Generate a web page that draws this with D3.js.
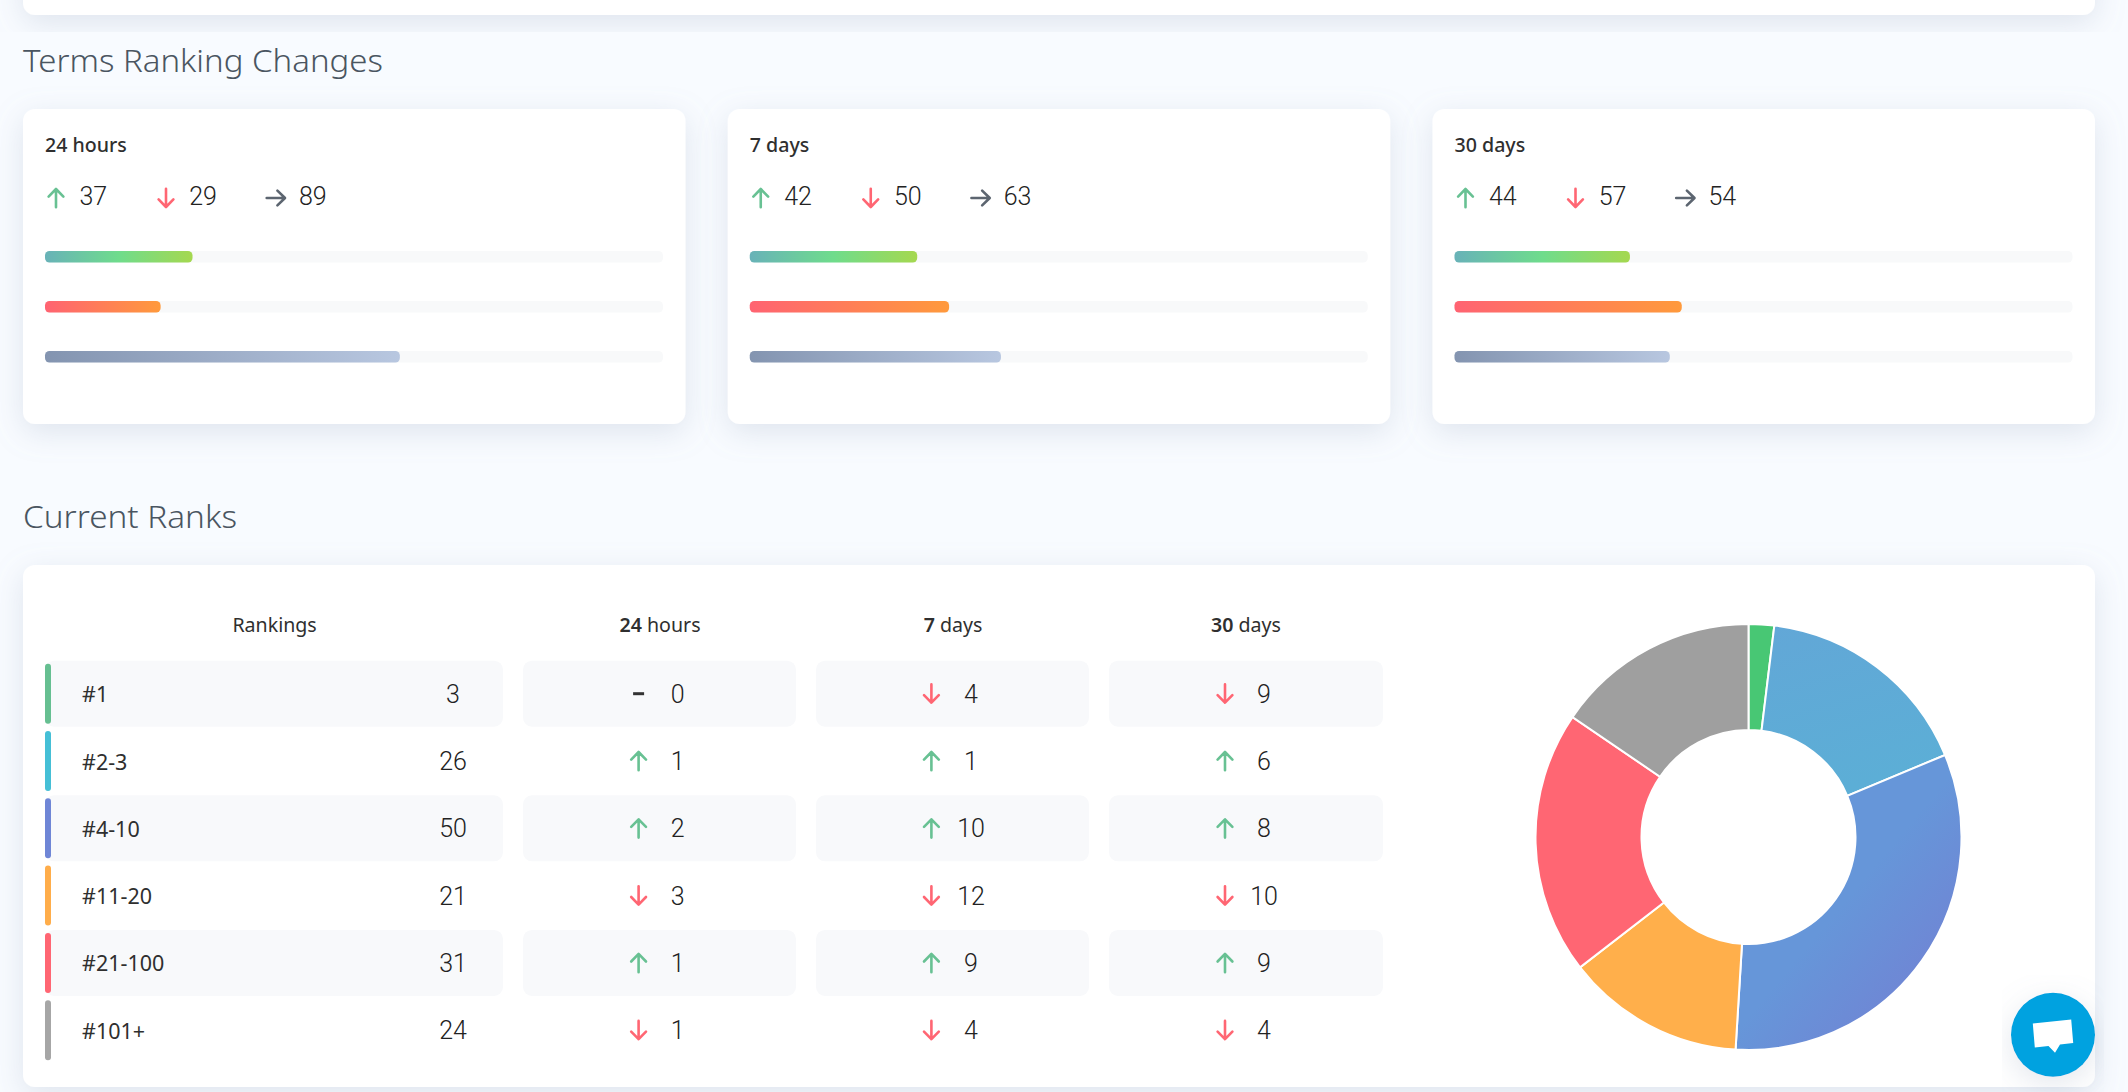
<!DOCTYPE html>
<html>
<head>
<meta charset="utf-8">
<script src="https://cdn.jsdelivr.net/npm/d3@7.9.0/dist/d3.min.js"></script>
<style>
  html, body { margin: 0; padding: 0; background: #f8fbff; overflow: hidden; }
  svg { display: block; }
  .title { font-family: "Noto Sans", sans-serif; font-weight: 300; font-size: 31px; fill: #4a5561; }
  .label { font-family: "Noto Sans", sans-serif; font-size: 19.6px; fill: #2f2f2f; }
  .rank { font-size: 21.5px; }
  .num { font-family: Roboto, sans-serif; font-weight: 300; font-size: 25px; fill: #222; }
</style>
</head>
<body>
<svg id="page" width="2128" height="1092"></svg>
<script>
const periods = ["24 hours", "7 days", "30 days"];
const upCounts = [37, 42, 44];
const downCounts = [29, 50, 57];
const sameCounts = [89, 63, 54];
const termTotal = 155;

const rankLabels = ["#1", "#2-3", "#4-10", "#11-20", "#21-100", "#101+"];
const rankCounts = [3, 26, 50, 21, 31, 24];
const rankColors = ["#66bf91", "#45bfd6", "#6f86d6", "#ffad4a", "#ff6673", "#a6a6a6"];
const sliceFills = ["#48c774", "url(#slice2)", "url(#slice3)", "#ffaf4b", "#ff6673", "#9f9f9f"];

// direction and size of the change per rank
const change24h = [["same", 0], ["up", 1], ["up", 2], ["down", 3], ["up", 1], ["down", 1]];
const change7d = [["down", 4], ["up", 1], ["up", 10], ["down", 12], ["up", 9], ["down", 4]];
const change30d = [["down", 9], ["up", 6], ["up", 8], ["down", 10], ["up", 9], ["down", 4]];

const svg = d3.select("#page");
const defs = svg.append("defs");

const shadow = defs.append("filter").attr("id", "shadow")
  .attr("x", "-10%").attr("y", "-20%").attr("width", "120%").attr("height", "150%");
shadow.append("feDropShadow").attr("dx", 0).attr("dy", 8).attr("stdDeviation", 15)
  .attr("flood-color", "#8c9bb4").attr("flood-opacity", 0.24);

function gradient(id, stops, x1 = "0%", y1 = "0%", x2 = "100%", y2 = "0%") {
  const g = defs.append("linearGradient").attr("id", id)
    .attr("x1", x1).attr("y1", y1).attr("x2", x2).attr("y2", y2);
  stops.forEach((c, i) => g.append("stop").attr("offset", i / (stops.length - 1)).attr("stop-color", c));
}
gradient("barUp", ["#68b2b8", "#6fdc8c", "#a5d84f"]);
gradient("barDown", ["#ff6372", "#ff9a3c"]);
gradient("barSame", ["#8394b0", "#b8c7e0"]);
gradient("slice2", ["#62a7d7", "#5caed6"], "0%", "0%", "30%", "100%");
gradient("slice3", ["#6696d9", "#7084d4"], "48%", "50%", "80%", "85%");

const arrowColors = { up: "#68c193", down: "#ff6673", right: "#5c6570" };
const arrowAngle = { up: 0, down: 180, right: 90 };

function drawArrow(parent, dir, x, y) {
  if (dir === "same") {
    parent.append("rect").attr("x", x - 5.5).attr("y", y - 1.5).attr("width", 11).attr("height", 3).attr("fill", "#333");
    return;
  }
  parent.append("path")
    .attr("d", "M0,9.3V-8.6M-7.4,-1.4L0,-9L7.4,-1.4")
    .attr("transform", `translate(${x},${y}) rotate(${arrowAngle[dir]})`)
    .attr("fill", "none")
    .attr("stroke", arrowColors[dir])
    .attr("stroke-width", 2.6)
    .attr("stroke-linecap", "round")
    .attr("stroke-linejoin", "round");
}

// top card, cut by the page edge
svg.append("rect").attr("x", 23).attr("y", -40).attr("width", 2072).attr("height", 55)
  .attr("rx", 12).attr("fill", "#fff").attr("filter", "url(#shadow)");

svg.append("text").attr("class", "title").attr("x", 23).attr("y", 72)
  .attr("textLength", 360).attr("lengthAdjust", "spacingAndGlyphs").text("Terms Ranking Changes");

// Terms Ranking Changes cards
const cardX = d3.scalePoint().domain(periods).range([23, 1432.5]);
const barLen = d3.scaleLinear().domain([0, termTotal]).range([0, 618]);
const barY = d3.scalePoint().domain(["up", "down", "same"]).range([251, 351]);

periods.forEach((period, i) => {
  const card = svg.append("g").attr("transform", `translate(${cardX(period)},109)`);
  card.append("rect").attr("width", 662.5).attr("height", 315).attr("rx", 12)
    .attr("fill", "#fff").attr("filter", "url(#shadow)");
  card.append("text").attr("class", "label").attr("x", 22).attr("y", 43)
    .style("font-weight", 500).text(period);

  const stats = [["up", upCounts[i], "barUp"], ["down", downCounts[i], "barDown"], ["same", sameCounts[i], "barSame"]];
  stats.forEach(([key, value, fill], j) => {
    drawArrow(card, key === "same" ? "right" : key, 33 + j * 110, 89);
    card.append("text").attr("class", "num").attr("x", 56.5 + j * 109.7).attr("y", 96).text(value);
    const y = barY(key) - 109;
    card.append("rect").attr("x", 22).attr("y", y).attr("width", barLen(termTotal)).attr("height", 11.5)
      .attr("rx", 4.5).attr("fill", "#f8f9fa");
    card.append("rect").attr("x", 22).attr("y", y).attr("width", barLen(value)).attr("height", 11.5)
      .attr("rx", 4.5).attr("fill", `url(#${fill})`);
  });
});

svg.append("text").attr("class", "title").attr("x", 23).attr("y", 528)
  .attr("textLength", 214).attr("lengthAdjust", "spacingAndGlyphs").text("Current Ranks");

// Current Ranks card
svg.append("rect").attr("x", 23).attr("y", 565).attr("width", 2072).attr("height", 522)
  .attr("rx", 12).attr("fill", "#fff").attr("filter", "url(#shadow)");

const rowY = d3.scalePoint().domain(rankLabels).range([693.7, 1030.2]);
const columns = [
  { head: "24 hours", x: 523, w: 273, arrow: 638.6, num: 677.8, data: change24h, mid: 660 },
  { head: "7 days", x: 816, w: 273, arrow: 931.4, num: 971, data: change7d, mid: 953 },
  { head: "30 days", x: 1109, w: 274, arrow: 1225, num: 1264, data: change30d, mid: 1246 }
];

svg.append("text").attr("class", "label").attr("x", 274.6).attr("y", 632)
  .attr("text-anchor", "middle").text("Rankings");

columns.forEach((col) => {
  const [bold, rest] = col.head.split(" ");
  const head = svg.append("text").attr("class", "label").attr("x", col.mid).attr("y", 632).attr("text-anchor", "middle");
  head.append("tspan").style("font-weight", 600).text(bold);
  head.append("tspan").text(" " + rest);
});

rankLabels.forEach((label, i) => {
  const cy = rowY(label);
  if (i % 2 === 0) {
    svg.append("rect").attr("x", 45).attr("y", cy - 33).attr("width", 458).attr("height", 66).attr("rx", 9).attr("fill", "#f8f9fb");
    columns.forEach((col) => {
      svg.append("rect").attr("x", col.x).attr("y", cy - 33).attr("width", col.w).attr("height", 66).attr("rx", 9).attr("fill", "#f8f9fb");
    });
  }
  svg.append("rect").attr("x", 45).attr("y", cy - 30).attr("width", 6).attr("height", 60).attr("rx", 3).attr("fill", rankColors[i]);
  svg.append("text").attr("class", "label rank").attr("x", 82).attr("y", cy + 8.5).text(label);
  svg.append("text").attr("class", "num").attr("x", 453).attr("y", cy + 9).attr("text-anchor", "middle").text(rankCounts[i]);
  columns.forEach((col) => {
    const [dir, value] = col.data[i];
    drawArrow(svg, dir, col.arrow, cy);
    svg.append("text").attr("class", "num").attr("x", col.num).attr("y", cy + 9).attr("text-anchor", "middle").text(value);
  });
});

// doughnut
const pie = d3.pie().sort(null);
const arc = d3.arc().innerRadius(107).outerRadius(213);
svg.append("g").attr("transform", "translate(1748.5,837)")
  .selectAll("path")
  .data(pie(rankCounts))
  .join("path")
  .attr("d", arc)
  .attr("fill", (d, i) => sliceFills[i])
  .attr("stroke", "#fff")
  .attr("stroke-width", 2);

// chat button
const chat = svg.append("g").attr("transform", "translate(2053,1034.7)");
chat.append("circle").attr("r", 42).attr("fill", "#00a2e0").attr("filter", "url(#shadow)");
chat.append("path").attr("fill", "#fff")
  .attr("d", "M-20.2,-11.3L18.2,-15.3L20.2,8.3L7,9.7L2,18L-4.5,11.3L-18.2,12.7Z");
</script>
</body>
</html>
